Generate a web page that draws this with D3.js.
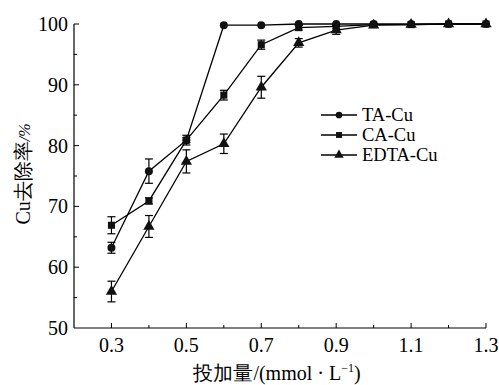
<!DOCTYPE html>
<html><head><meta charset="utf-8">
<script src="https://cdn.jsdelivr.net/npm/d3@7"></script>
<style>body{margin:0;background:#fff}</style>
</head><body>
<svg id="c" width="499" height="385"></svg>
<script>
const doses = [0.3,0.4,0.5,0.6,0.7,0.8,0.9,1.0,1.1,1.2,1.3];
const taVals = [63.2,75.8,80.9,99.8,99.8,100,100,100,100,100,100];
const taErr  = [0.9,2.0,0.4,0,0,0,0,0,0,0,0];
const caVals = [66.9,70.9,80.9,88.3,96.6,99.4,99.6,99.9,99.9,100,100];
const caErr  = [1.4,0.5,0.8,0.8,0.75,0.4,0.3,0.2,0.2,0,0];
const edtaVals = [56.0,66.7,77.4,80.3,89.6,96.9,99.0,99.8,99.9,100,100];
const edtaErr  = [1.7,1.8,1.9,1.6,1.8,0.7,0.7,0.3,0.2,0,0];
const seriesNames = ["TA-Cu","CA-Cu","EDTA-Cu"];
const xTicks = [0.3,0.5,0.7,0.9,1.1,1.3];
const yTicks = [50,60,70,80,90,100];

const svg = d3.select("#c");
const font = "'Liberation Serif','Times New Roman',serif";
const x = d3.scaleLinear().domain([0.2,1.3]).range([74,486]);
const y = d3.scaleLinear().domain([50,100]).range([328,24]);

// axes
const gx = svg.append("g").attr("transform","translate(0,328)");
gx.append("line").attr("x1",x(0.2)).attr("x2",x(1.3)).attr("stroke","#000").attr("stroke-width",1.2);
const xMinor = d3.range(3,14).map(v=>v/10);
gx.selectAll(".mx").data(xMinor).join("line")
  .attr("x1",d=>x(d)).attr("x2",d=>x(d)).attr("y1",0)
  .attr("y2",d=>xTicks.some(t=>Math.abs(t-d)<1e-6)?-5:-3).attr("stroke","#000").attr("stroke-width",1);
gx.selectAll("text").data(xTicks).join("text")
  .attr("x",d=>x(d)).attr("y",24).attr("text-anchor","middle")
  .attr("font-family",font).attr("font-size",20).text(d=>d.toFixed(1));

const gy = svg.append("g").attr("transform","translate(74,0)");
gy.append("line").attr("y1",y(50)).attr("y2",y(100)).attr("stroke","#000").attr("stroke-width",1.2);
const yMinor = d3.range(55,101,5);
gy.selectAll(".my").data(yMinor).join("line")
  .attr("y1",d=>y(d)).attr("y2",d=>y(d)).attr("x1",0)
  .attr("x2",d=>d%10===0?5:3).attr("stroke","#000").attr("stroke-width",1);
gy.selectAll("text").data(yTicks).join("text")
  .attr("x",-6).attr("y",d=>y(d)+7).attr("text-anchor","end")
  .attr("font-family",font).attr("font-size",20).text(d=>d);

// titles
svg.append("text").attr("x",277).attr("y",380).attr("text-anchor","middle")
  .attr("font-family",font).attr("font-size",20)
  .html('投加量/(mmol · L<tspan font-size="12" dy="-8">−1</tspan><tspan dy="8">)</tspan>');
svg.append("text").attr("transform","translate(30,174) rotate(-90)").attr("text-anchor","middle")
  .attr("font-family",font).attr("font-size",20)
  .html('Cu去除率<tspan font-style="italic" font-size="16">/%</tspan>');

// series
const data = [
  {name:seriesNames[0], vals:taVals, err:taErr, sym:d3.symbolCircle, size:50},
  {name:seriesNames[1], vals:caVals, err:caErr, sym:d3.symbolSquare, size:50},
  {name:seriesNames[2], vals:edtaVals, err:edtaErr, sym:d3.symbolTriangle, size:55}
];
const line = d3.line().x(d=>x(d[0])).y(d=>y(d[1]));
data.forEach(s=>{
  const pts = doses.map((d,i)=>[d,s.vals[i],s.err[i]]);
  svg.append("path").attr("d",line(pts)).attr("fill","none").attr("stroke","#000").attr("stroke-width",1.3);
  const eb = svg.append("g");
  pts.filter(p=>p[2]>0.25).forEach(p=>{
    const cx=x(p[0]), y1=y(p[1]-p[2]), y2=y(p[1]+p[2]);
    eb.append("line").attr("x1",cx).attr("x2",cx).attr("y1",y1).attr("y2",y2).attr("stroke","#000").attr("stroke-width",1.2);
    eb.append("line").attr("x1",cx-4).attr("x2",cx+4).attr("y1",y1).attr("y2",y1).attr("stroke","#000").attr("stroke-width",1.2);
    eb.append("line").attr("x1",cx-4).attr("x2",cx+4).attr("y1",y2).attr("y2",y2).attr("stroke","#000").attr("stroke-width",1.2);
  });
  svg.append("g").selectAll("path").data(pts).join("path")
    .attr("transform",p=>`translate(${x(p[0])},${y(p[1])})`)
    .attr("d",d3.symbol().type(s.sym).size(s.size)).attr("fill","#111");
});

// legend
const lg = svg.append("g");
data.forEach((s,i)=>{
  const yy = 115 + i*20;
  lg.append("line").attr("x1",321).attr("x2",357).attr("y1",yy).attr("y2",yy).attr("stroke","#000").attr("stroke-width",1.3);
  lg.append("path").attr("transform",`translate(339,${yy})`).attr("d",d3.symbol().type(s.sym).size(s.size*0.7)).attr("fill","#111");
  lg.append("text").attr("x",362).attr("y",yy+6).attr("font-family",font).attr("font-size",18.5).text(s.name);
});
</script>
</body></html>
